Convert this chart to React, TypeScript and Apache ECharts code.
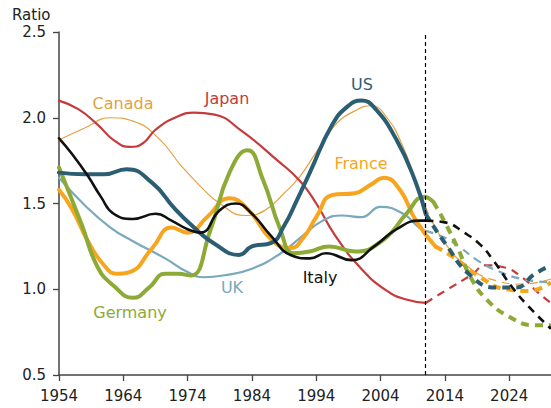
import React, { useEffect, useRef } from "react";
import * as echarts from "echarts";

const PROJECTION_START = 2011;
const X_MIN = 1954;
const X_MAX = 2030.5;
const Y_MIN = 0.5;
const Y_MAX = 2.5;

const japanYears = [1954, 1957, 1960, 1962.5, 1965, 1967, 1969, 1972, 1975, 1978, 1982.5, 1988, 1991.5, 1994, 1997, 2001, 2005, 2008, 2011];
const japanValues = [2.1, 2.05, 1.96, 1.87, 1.83, 1.85, 1.93, 2.0, 2.03, 2.02, 1.92, 1.75, 1.63, 1.5, 1.31, 1.12, 0.99, 0.94, 0.92];
const japanProjYears = [2011, 2014, 2018, 2020.5, 2023, 2026, 2028.5, 2030.5];
const japanProjValues = [0.92, 0.99, 1.08, 1.14, 1.13, 1.07, 0.98, 0.92];

const canadaYears = [1954, 1958, 1962, 1965.5, 1969.5, 1973, 1976, 1979, 1983, 1986, 1989, 1991.5, 1994, 1997, 2000, 2002.5, 2005, 2007.5, 2009.5, 2011];
const canadaValues = [1.87, 1.94, 2.0, 1.98, 1.88, 1.72, 1.6, 1.5, 1.43, 1.46, 1.56, 1.66, 1.8, 1.96, 2.04, 2.07, 2.0, 1.83, 1.63, 1.48];
const canadaProjYears = [2011, 2014, 2018, 2022, 2026, 2030.5];
const canadaProjValues = [1.48, 1.27, 1.12, 1.05, 1.03, 1.06];

const usYears = [1954, 1958, 1961, 1964.5, 1968.5, 1972, 1975, 1978, 1982, 1984, 1987, 1989, 1991, 1993, 1996.5, 1999, 2001, 2003, 2006.5, 2009.5, 2011];
const usValues = [1.68, 1.67, 1.67, 1.7, 1.62, 1.47, 1.36, 1.27, 1.2, 1.25, 1.27, 1.37, 1.52, 1.68, 1.96, 2.07, 2.1, 2.06, 1.87, 1.62, 1.44];
const usProjYears = [2011, 2014, 2018, 2022, 2025, 2028, 2030.5];
const usProjValues = [1.44, 1.27, 1.08, 1.01, 1.01, 1.09, 1.14];

const franceYears = [1954, 1956, 1958.5, 1961, 1963, 1965, 1968.5, 1971.5, 1974, 1977, 1980.5, 1983.5, 1987, 1990, 1992, 1994, 1996.5, 2000, 2002.5, 2004.5, 2007, 2009.5, 2012.5];
const franceValues = [1.58, 1.47, 1.28, 1.14, 1.09, 1.1, 1.24, 1.36, 1.33, 1.42, 1.53, 1.46, 1.29, 1.24, 1.3, 1.42, 1.55, 1.56, 1.61, 1.65, 1.58, 1.4, 1.25];
const franceProjYears = [2012.5, 2016, 2019.5, 2023.5, 2027, 2030.5];
const franceProjValues = [1.25, 1.17, 1.07, 1.0, 0.99, 1.04];

const germanyYears = [1954, 1957.5, 1960, 1962.5, 1965.5, 1968, 1970.5, 1972.5, 1974.5, 1977.5, 1980.5, 1983.3, 1985.7, 1988.4, 1990.5, 1993, 1996, 2000, 2004.5, 2008, 2010.8, 2012.2];
const germanyValues = [1.71, 1.38, 1.13, 1.02, 0.95, 1.01, 1.09, 1.09, 1.08, 1.34, 1.68, 1.81, 1.64, 1.35, 1.21, 1.22, 1.25, 1.22, 1.29, 1.44, 1.54, 1.51];
const germanyProjYears = [2012.2, 2014, 2016, 2018, 2020.5, 2024, 2028, 2030.5];
const germanyProjValues = [1.51, 1.39, 1.24, 1.07, 0.94, 0.84, 0.79, 0.79];

const italyYears = [1954, 1956, 1958.5, 1960.5, 1962.5, 1965.5, 1969, 1971.5, 1974, 1976, 1979, 1981.5, 1984, 1987, 1990, 1993, 1995.5, 1999.5, 2003, 2006.5, 2010, 2011];
const italyValues = [1.88, 1.79, 1.66, 1.54, 1.44, 1.41, 1.44, 1.4, 1.35, 1.33, 1.46, 1.5, 1.44, 1.31, 1.2, 1.18, 1.21, 1.17, 1.25, 1.35, 1.4, 1.4];
const italyProjYears = [2011, 2014, 2017, 2019.5, 2021.5, 2024.5, 2027, 2030.5];
const italyProjValues = [1.4, 1.39, 1.33, 1.26, 1.17, 1.01, 0.9, 0.77];

const ukYears = [1954, 1958, 1962, 1965.5, 1970.5, 1974, 1976.5, 1979.5, 1984, 1988.5, 1991.5, 1995, 1998, 2001, 2004, 2007.5, 2010, 2011];
const ukValues = [1.65, 1.49, 1.36, 1.28, 1.18, 1.1, 1.07, 1.08, 1.12, 1.21, 1.3, 1.4, 1.43, 1.42, 1.48, 1.44, 1.36, 1.34];
const ukProjYears = [2011, 2014, 2016.5, 2019, 2022, 2026, 2030.5];
const ukProjValues = [1.34, 1.3, 1.24, 1.17, 1.11, 1.06, 1.04];

const xTickInterval = 10;
const yTickInterval = 0.5;

const zip = (xs: number[], ys: number[]) => xs.map((x, i) => [x, ys[i]]);

type Country = {
  name: string;
  color: string;
  width: number;
  years: number[];
  values: number[];
  projYears: number[];
  projValues: number[];
  label: { x: number; y: number };
};

const countries: Country[] = [
  { name: "Canada", color: "#E3A142", width: 1.2, years: canadaYears, values: canadaValues, projYears: canadaProjYears, projValues: canadaProjValues, label: { x: 123, y: 103 } },
  { name: "Japan", color: "#C53B3B", width: 2.2, years: japanYears, values: japanValues, projYears: japanProjYears, projValues: japanProjValues, label: { x: 227, y: 98 } },
  { name: "UK", color: "#78A9BC", width: 2.2, years: ukYears, values: ukValues, projYears: ukProjYears, projValues: ukProjValues, label: { x: 232, y: 287 } },
  { name: "France", color: "#F7A51E", width: 4, years: franceYears, values: franceValues, projYears: franceProjYears, projValues: franceProjValues, label: { x: 361, y: 163 } },
  { name: "Germany", color: "#8DAA37", width: 4, years: germanyYears, values: germanyValues, projYears: germanyProjYears, projValues: germanyProjValues, label: { x: 130, y: 312 } },
  { name: "US", color: "#2B5E73", width: 4, years: usYears, values: usValues, projYears: usProjYears, projValues: usProjValues, label: { x: 362, y: 84 } },
  { name: "Italy", color: "#111111", width: 2.6, years: italyYears, values: italyValues, projYears: italyProjYears, projValues: italyProjValues, label: { x: 320, y: 277 } },
];

const FONT = "DejaVu Sans";

export default function App() {
  const ref = useRef<HTMLDivElement>(null);
  useEffect(() => {
    if (!ref.current) return;
    const chart = echarts.init(ref.current, undefined, { renderer: "svg" });
    const series: any[] = [];
    countries.forEach((c) => {
      series.push({
        name: c.name,
        type: "line",
        data: zip(c.years, c.values),
        smooth: 0.5,
        showSymbol: false,
        symbol: "none",
        lineStyle: { color: c.color, width: c.width, cap: "round", join: "round" },
        z: 3,
      });
      series.push({
        name: c.name + " projection",
        type: "line",
        data: zip(c.projYears, c.projValues),
        smooth: 0.5,
        showSymbol: false,
        symbol: "none",
        lineStyle: { color: c.color, width: c.width, type: [8, 6] },
        z: 2,
      });
    });
    series.push({
      name: "divider",
      type: "line",
      data: [],
      markLine: {
        silent: true,
        symbol: "none",
        label: { show: false },
        lineStyle: { color: "#000", width: 1.2, type: [4, 3] },
        data: [{ xAxis: PROJECTION_START }],
      },
    });

    const graphics: any[] = [
      {
        type: "text",
        left: 12,
        top: 7,
        style: { text: "Ratio", font: `15px "${FONT}"`, fill: "#222" },
      },
      ...countries.map((c) => ({
        type: "text",
        x: c.label.x,
        y: c.label.y,
        style: {
          text: c.name,
          font: `16px "${FONT}"`,
          fill: c.color,
          align: "center",
          verticalAlign: "middle",
        },
      })),
    ];

    chart.setOption({
      animation: false,
      grid: { left: 59, right: 0, top: 32, bottom: 33, containLabel: false },
      xAxis: {
        type: "value",
        min: X_MIN,
        max: X_MAX,
        interval: xTickInterval,
        axisLine: { lineStyle: { color: "#444", width: 1.5 } },
        axisTick: { show: true, length: 6, lineStyle: { color: "#444", width: 1.3 } },
        axisLabel: {
          color: "#222",
          fontFamily: FONT,
          fontSize: 15,
          margin: 13,
          showMaxLabel: false,
          formatter: (v: number) => String(Math.round(v)),
        },
        splitLine: { show: false },
      },
      yAxis: {
        type: "value",
        min: Y_MIN,
        max: Y_MAX,
        interval: yTickInterval,
        axisLine: { show: true, lineStyle: { color: "#444", width: 1.5 } },
        axisTick: { show: true, length: 6, lineStyle: { color: "#444", width: 1.3 } },
        axisLabel: {
          color: "#222",
          fontFamily: FONT,
          fontSize: 15,
          margin: 13,
          formatter: (v: number) => v.toFixed(1),
        },
        splitLine: { show: false },
      },
      series,
      graphic: graphics,
    });
    return () => chart.dispose();
  }, []);
  return (
    <div
      ref={ref}
      style={{ position: "fixed", left: 0, top: 0, width: 551, height: 408, background: "#fff" }}
    />
  );
}
